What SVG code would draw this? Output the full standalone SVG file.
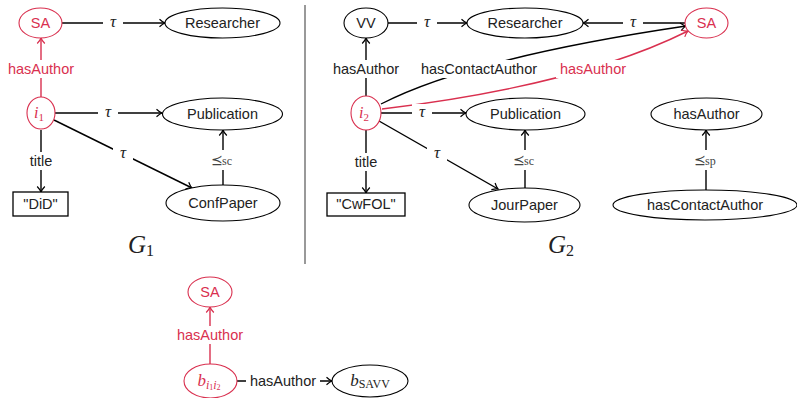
<svg xmlns="http://www.w3.org/2000/svg" width="797" height="398" viewBox="0 0 797 398">
<style>
.n{fill:#fff;stroke:#000;stroke-width:1.1}
.r{fill:#fff;stroke:#d9304f;stroke-width:1.1}
.t{font-family:"Liberation Sans",Arial,sans-serif;font-size:14.5px;fill:#222;text-anchor:middle}
.tr{font-family:"Liberation Sans",Arial,sans-serif;font-size:14.5px;fill:#d9304f;text-anchor:middle}
.m{font-family:"Liberation Serif","Times New Roman",serif;font-style:italic;font-size:17px;fill:#222;text-anchor:middle}
.s{font-family:"DejaVu Sans",sans-serif;font-size:14px;fill:#444;text-anchor:middle}
.ss{font-family:"Liberation Serif","Times New Roman",serif;font-size:12px;fill:#444;text-anchor:start}
.e{fill:none;stroke:#000;stroke-width:1.4}
.er{fill:none;stroke:#d9304f;stroke-width:1.4}
.bg{fill:#fff;stroke:none}
</style>
<defs>
<marker id="a" markerWidth="10" markerHeight="10" refX="0" refY="0" viewBox="-6 -5 8 10" orient="auto" markerUnits="userSpaceOnUse">
<path d="M-5.5,-3.8 Q-2,-0.6 0,0 Q-2,0.6 -5.5,3.8" fill="none" stroke="#000" stroke-width="1.2"/>
</marker>
<marker id="ar" markerWidth="10" markerHeight="10" refX="0" refY="0" viewBox="-6 -5 8 10" orient="auto" markerUnits="userSpaceOnUse">
<path d="M-5.5,-3.8 Q-2,-0.6 0,0 Q-2,0.6 -5.5,3.8" fill="none" stroke="#d9304f" stroke-width="1.2"/>
</marker>
</defs>

<g id="connectors">
<!-- left graph -->
<path class="e" d="M62,23 L165,23" marker-end="url(#a)"/>
<path class="er" d="M41,97 L41,38" marker-end="url(#ar)"/>
<path class="e" d="M55,113 L162,113" marker-end="url(#a)"/>
<path class="e" d="M41,130 L41,192" marker-end="url(#a)"/>
<path class="e" d="M54,120 L192,188" marker-end="url(#a)"/>
<path class="e" d="M223,185 L223,130" marker-end="url(#a)"/>
<!-- right graph -->
<path class="e" d="M388,23 L467,23" marker-end="url(#a)"/>
<path class="e" d="M366,96 L366,38" marker-end="url(#a)"/>
<path class="e" d="M685,23 L583,23" marker-end="url(#a)"/>
<path class="e" d="M381,104 Q470,58 686,26" marker-end="url(#a)"/>
<path class="er" d="M382,109 Q580,85 688,31" marker-end="url(#ar)"/>
<path class="e" d="M381,113 L466,113" marker-end="url(#a)"/>
<path class="e" d="M366,130 L366,193" marker-end="url(#a)"/>
<path class="e" d="M379,121 L498,189" marker-end="url(#a)"/>
<path class="e" d="M525,188 L525,130" marker-end="url(#a)"/>
<path class="e" d="M706,190 L706,130" marker-end="url(#a)"/>
<!-- bottom -->
<path class="er" d="M210,364 L210,307" marker-end="url(#ar)"/>
<path class="e" d="M237,381 L332,381" marker-end="url(#a)"/>

<!-- edge labels -->
<rect class="bg" x="103" y="14" width="20" height="18"/><text class="m" x="113" y="27">τ</text>
<rect class="bg" x="5" y="60" width="72" height="18"/><text class="tr" x="41" y="74">hasAuthor</text>
<rect class="bg" x="98" y="104" width="20" height="18"/><text class="m" x="108" y="117">τ</text>
<rect class="bg" x="23" y="152" width="36" height="18"/><text class="t" x="41" y="166">title</text>
<rect class="bg" x="113" y="145" width="20" height="18"/><text class="m" x="123" y="158">τ</text>
<rect class="bg" x="209" y="150" width="28" height="20"/><text class="s" x="217" y="165">⪯</text><text class="ss" x="222" y="165">sc</text>

<rect class="bg" x="417" y="14" width="20" height="18"/><text class="m" x="427" y="27">τ</text>
<rect class="bg" x="330" y="60" width="72" height="18"/><text class="t" x="366" y="74">hasAuthor</text>
<rect class="bg" x="623" y="14" width="20" height="18"/><text class="m" x="633" y="27">τ</text>
<rect class="bg" x="418" y="60" width="122" height="18"/><text class="t" x="479" y="74">hasContactAuthor</text>
<rect class="bg" x="556" y="60" width="74" height="18"/><text class="tr" x="593" y="74">hasAuthor</text>
<rect class="bg" x="412" y="104" width="20" height="18"/><text class="m" x="422" y="117">τ</text>
<rect class="bg" x="348" y="153" width="36" height="18"/><text class="t" x="366" y="167">title</text>
<rect class="bg" x="427" y="145" width="20" height="18"/><text class="m" x="437" y="158">τ</text>
<rect class="bg" x="511" y="150" width="28" height="20"/><text class="s" x="519" y="165">⪯</text><text class="ss" x="524" y="165">sc</text>
<rect class="bg" x="692" y="150" width="30" height="20"/><text class="s" x="700" y="165">⪯</text><text class="ss" x="705" y="165">sp</text>

<rect class="bg" x="174" y="326" width="72" height="18"/><text class="tr" x="210" y="340">hasAuthor</text>
<rect class="bg" x="246" y="372" width="74" height="18"/><text class="t" x="283" y="386">hasAuthor</text>
</g>

<!-- divider -->
<line x1="305" y1="5" x2="305" y2="264" stroke="#555" stroke-width="1.2"/>

<!-- left graph nodes -->
<g id="g1-SA"><ellipse class="r" cx="40.5" cy="23" rx="21.5" ry="15"/><text class="tr" x="40.5" y="28">SA</text></g>
<g id="g1-Researcher"><ellipse class="n" cx="222.5" cy="23" rx="57.5" ry="15"/><text class="t" x="222.5" y="28">Researcher</text></g>
<g id="g1-i1"><ellipse class="r" cx="41" cy="113" rx="14" ry="16"/><text x="39" y="118" style="font-family:'Liberation Serif',serif;font-style:italic;font-size:16px;fill:#d9304f;text-anchor:middle">i<tspan dy="3" font-size="11" font-style="normal">1</tspan></text></g>
<g id="g1-Publication"><ellipse class="n" cx="222.5" cy="114" rx="60" ry="16"/><text class="t" x="222.5" y="119">Publication</text></g>
<g id="g1-DiD"><rect x="13" y="192" width="55" height="24" fill="#fff" stroke="#000" stroke-width="1.3"/><text class="t" x="40.5" y="209">"DiD"</text></g>
<g id="g1-ConfPaper"><ellipse class="n" cx="223" cy="203" rx="57" ry="18"/><text class="t" x="223" y="208">ConfPaper</text></g>
<g id="g1-label"><text x="137" y="253" style="font-family:'Liberation Serif',serif;font-style:italic;font-size:25px;fill:#222;text-anchor:middle">G</text><text x="150" y="256" style="font-family:'Liberation Serif',serif;font-size:16px;fill:#222;text-anchor:middle">1</text></g>

<!-- right graph nodes -->
<g id="g2-VV"><ellipse class="n" cx="366" cy="23" rx="22" ry="15"/><text class="t" x="366" y="28">VV</text></g>
<g id="g2-Researcher"><ellipse class="n" cx="525" cy="23" rx="58" ry="15"/><text class="t" x="525" y="28">Researcher</text></g>
<g id="g2-SA"><ellipse class="r" cx="706.5" cy="23" rx="21.5" ry="15"/><text class="tr" x="706.5" y="28">SA</text></g>
<g id="g2-i2"><ellipse class="r" cx="366" cy="113" rx="15" ry="17"/><text x="364" y="118" style="font-family:'Liberation Serif',serif;font-style:italic;font-size:16px;fill:#d9304f;text-anchor:middle">i<tspan dy="3" font-size="11" font-style="normal">2</tspan></text></g>
<g id="g2-Publication"><ellipse class="n" cx="525.5" cy="114" rx="59.5" ry="16"/><text class="t" x="525.5" y="119">Publication</text></g>
<g id="g2-hasAuthor"><ellipse class="n" cx="706.5" cy="114" rx="55.5" ry="16"/><text class="t" x="706.5" y="119">hasAuthor</text></g>
<g id="g2-CwFOL"><rect x="327" y="193" width="78" height="23" fill="#fff" stroke="#000" stroke-width="1.3"/><text class="t" x="366" y="209">"CwFOL"</text></g>
<g id="g2-JourPaper"><ellipse class="n" cx="524.5" cy="205" rx="55.5" ry="17"/><text class="t" x="524.5" y="210">JourPaper</text></g>
<g id="g2-hasContactAuthor"><ellipse class="n" cx="705" cy="205" rx="92" ry="15"/><text class="t" x="705" y="210">hasContactAuthor</text></g>
<g id="g2-label"><text x="557" y="253" style="font-family:'Liberation Serif',serif;font-style:italic;font-size:25px;fill:#222;text-anchor:middle">G</text><text x="570" y="256" style="font-family:'Liberation Serif',serif;font-size:16px;fill:#222;text-anchor:middle">2</text></g>

<!-- bottom nodes -->
<g id="b-SA"><ellipse class="r" cx="210" cy="292" rx="22" ry="15"/><text class="tr" x="210" y="297">SA</text></g>
<g id="b-i1i2"><ellipse class="r" cx="210.5" cy="381" rx="26.5" ry="17"/><text x="209" y="386" style="font-family:'Liberation Serif',serif;font-style:italic;font-size:17px;fill:#d9304f;text-anchor:middle">b<tspan dy="3" font-size="12">i</tspan><tspan dy="1" font-size="8" font-style="normal">1</tspan><tspan dy="-1" font-size="12">i</tspan><tspan dy="1" font-size="8" font-style="normal">2</tspan></text></g>
<g id="b-SAVV"><ellipse class="n" cx="370" cy="381" rx="38" ry="16"/><text x="370" y="386" style="font-family:'Liberation Serif',serif;font-style:italic;font-size:17px;fill:#222;text-anchor:middle">b<tspan dy="2" font-size="12" font-style="normal">SAVV</tspan></text></g>
</svg>
